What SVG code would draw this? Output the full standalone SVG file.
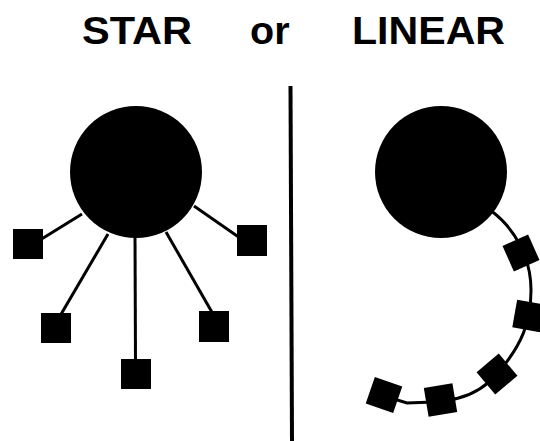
<svg xmlns="http://www.w3.org/2000/svg" width="540" height="441" viewBox="0 0 540 441">
<style>
.t{font-family:"Liberation Sans",Arial,sans-serif;font-weight:bold;font-size:39.5px;fill:#000}
.hub{fill:#000}
.sq{fill:#000}
.ln{stroke:#000;stroke-width:3;fill:none}
</style>
<rect width="540" height="441" fill="#fff"/>
<g id="titles">
<text class="t" x="82" y="44" textLength="110" lengthAdjust="spacingAndGlyphs">STAR</text>
<text class="t" x="250" y="44">or</text>
<text class="t" x="352" y="44" textLength="153" lengthAdjust="spacingAndGlyphs">LINEAR</text>
</g>
<g id="divider"><line x1="290.5" y1="86" x2="292" y2="441" stroke="#000" stroke-width="4"/></g>
<g id="connectors">
<line class="ln" x1="82" y1="214" x2="40" y2="240"/>
<line class="ln" x1="108" y1="234" x2="60" y2="316"/>
<line class="ln" x1="135" y1="236" x2="135.5" y2="362"/>
<line class="ln" x1="166" y1="232" x2="213" y2="314"/>
<line class="ln" x1="194" y1="206" x2="240" y2="238"/>
<path class="ln" d="M490,210 C515,228 531,258 531,290 S522,345 497,374 S440,402 407,403 L384,396"/>
</g>
<g id="star-hub"><circle class="hub" cx="136" cy="172" r="66"/></g>
<g id="star-node-1"><rect class="sq" x="13" y="229" width="30" height="30"/></g>
<g id="star-node-2"><rect class="sq" x="41" y="313" width="30" height="30"/></g>
<g id="star-node-3"><rect class="sq" x="121" y="359" width="30" height="30"/></g>
<g id="star-node-4"><rect class="sq" x="199" y="311" width="30" height="31"/></g>
<g id="star-node-5"><rect class="sq" x="237" y="225" width="30" height="31"/></g>
<g id="linear-hub"><circle class="hub" cx="441" cy="172" r="66"/></g>
<g id="linear-node-1"><rect class="sq" x="-14" y="-14" width="28" height="28" transform="translate(521,253) rotate(-24)"/></g>
<g id="linear-node-2"><rect class="sq" x="-14" y="-14" width="28" height="28" transform="translate(528.5,316) rotate(10)"/></g>
<g id="linear-node-3"><rect class="sq" x="-14.5" y="-14.5" width="29" height="29" transform="translate(497,374) rotate(-40)"/></g>
<g id="linear-node-4"><rect class="sq" x="-14.5" y="-14.5" width="29" height="29" transform="translate(440.5,400) rotate(-9.5)"/></g>
<g id="linear-node-5"><rect class="sq" x="-14.5" y="-14" width="29" height="28" transform="translate(384,395) rotate(19)"/></g>
</svg>
